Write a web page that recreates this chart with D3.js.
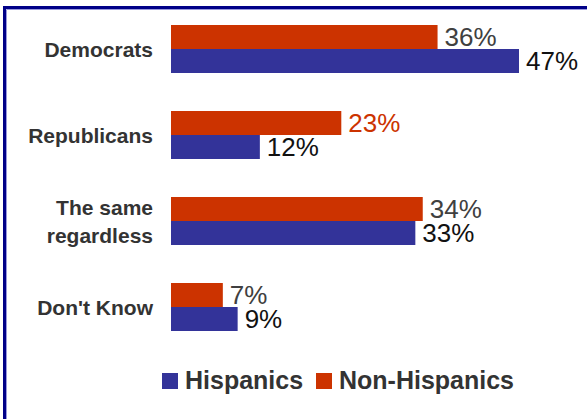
<!DOCTYPE html>
<html>
<head>
<meta charset="utf-8">
<script src="https://cdn.jsdelivr.net/npm/d3@7"></script>
<style>
  html, body { margin: 0; padding: 0; background: #fff; }
  svg { display: block; font-family: Arial, "Liberation Sans", sans-serif; }
</style>
</head>
<body>
<svg id="chart" width="587" height="419"></svg>
<script>
// Party preference, Hispanics vs Non-Hispanics (percent)
const categories = ["Democrats", "Republicans", "The same regardless", "Don't Know"];
const categoryLines = [["Democrats"], ["Republicans"], ["The same", "regardless"], ["Don't Know"]];
const hispanics = [47, 12, 33, 9];
const nonHispanics = [36, 23, 34, 7];
const seriesNames = ["Hispanics", "Non-Hispanics"];

const colors = { "Hispanics": "#333399", "Non-Hispanics": "#CC3300" };
// Per-bar label colours
const labelColors = {
  "Hispanics": ["#111", "#111", "#111", "#111"],
  "Non-Hispanics": ["#404040", "#CC3300", "#404040", "#404040"]
};

const svg = d3.select("#chart");

// Frame: navy rule along the top and left edges with a light inner line
svg.append("path")
  .attr("d", "M4.5,419 V7.5 H587")
  .attr("fill", "none").attr("stroke", "#000088").attr("stroke-width", 3);
svg.append("path")
  .attr("d", "M6.5,419 V9.5 H587")
  .attr("fill", "none").attr("stroke", "#9999dd").attr("stroke-width", 1);

const x = d3.scaleLinear().domain([0, 47]).range([171, 519]);
const y = d3.scaleBand().domain(categories).range([25, 331]).paddingInner(38 / 86).paddingOuter(0);
// Non-Hispanics on top, Hispanics below within each group
const ySub = d3.scaleBand().domain(["Non-Hispanics", "Hispanics"]).range([0, y.bandwidth()]);

const rows = [];
categories.forEach((c, i) => {
  rows.push({ cat: c, i, series: "Non-Hispanics", value: nonHispanics[i] });
  rows.push({ cat: c, i, series: "Hispanics", value: hispanics[i] });
});

svg.append("g").selectAll("rect").data(rows).join("rect")
  .attr("x", x(0))
  .attr("y", d => y(d.cat) + ySub(d.series))
  .attr("width", d => x(d.value) - x(0))
  .attr("height", ySub.bandwidth())
  .attr("fill", d => colors[d.series]);

// Value labels
const valueSize = 26;
svg.append("g").selectAll("text").data(rows).join("text")
  .attr("x", d => x(d.value) + 7)
  .attr("y", d => y(d.cat) + ySub(d.series) + ySub.bandwidth() / 2 + valueSize * 0.36)
  .attr("font-size", valueSize)
  .attr("fill", d => labelColors[d.series][d.i])
  .text(d => d.value + "%");

// Category labels
const catSize = 21;
const lineH = 28;
const catG = svg.append("g");
categories.forEach((c, i) => {
  const lines = categoryLines[i];
  const cy = y(c) + y.bandwidth() / 2 + catSize * 0.36 - (lines.length - 1) * lineH / 2;
  const t = catG.append("text")
    .attr("x", 153)
    .attr("y", cy)
    .attr("text-anchor", "end")
    .attr("font-size", catSize)
    .attr("font-weight", "bold")
    .attr("fill", "#333");
  lines.forEach((ln, k) => {
    t.append("tspan").attr("x", 153).attr("y", cy + k * lineH).text(ln);
  });
});

// Legend
const legend = svg.append("g");
const legendX = [162, 316];
seriesNames.forEach((s, k) => {
  legend.append("rect")
    .attr("x", legendX[k]).attr("y", 373)
    .attr("width", 16).attr("height", 16)
    .attr("fill", colors[s]);
  legend.append("text")
    .attr("x", legendX[k] + 23).attr("y", 389)
    .attr("font-size", 25).attr("font-weight", "bold")
    .attr("fill", "#333")
    .text(s);
});
</script>
</body>
</html>
